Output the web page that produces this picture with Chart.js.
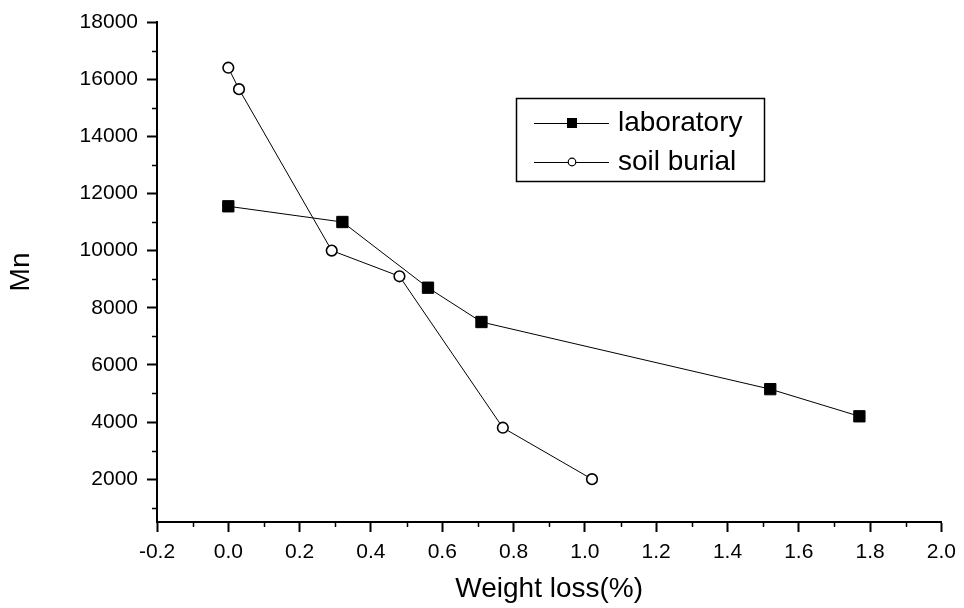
<!DOCTYPE html>
<html>
<head>
<meta charset="utf-8">
<title>Mn vs weight loss</title>
<script src="https://cdn.jsdelivr.net/npm/chart.js@4.4.0/dist/chart.umd.min.js"></script>
<style>
  html, body { margin: 0; padding: 0; background: #fff; }
  #wrap { width: 964px; height: 608px; position: relative; }
</style>
</head>
<body>
<div id="wrap"><canvas id="mn-chart"></canvas></div>
<script>
  'use strict';

  // ── Data ─────────────────────────────────────────────────────────────
  var seriesLabels = ['laboratory', 'soil burial'];
  var labLoss = [0.00, 0.32, 0.56, 0.71, 1.52, 1.77];
  var labMn = [11550, 11000, 8700, 7500, 5150, 4200];
  var soilLoss = [0.00, 0.03, 0.29, 0.48, 0.77, 1.02];
  var soilMn = [16400, 15650, 10000, 9100, 3800, 2000];

  var xTicks = [-0.2, 0.0, 0.2, 0.4, 0.6, 0.8, 1.0, 1.2, 1.4, 1.6, 1.8, 2.0];
  var yTicks = [2000, 4000, 6000, 8000, 10000, 12000, 14000, 16000, 18000];
  var xMinor = [-0.1, 0.1, 0.3, 0.5, 0.7, 0.9, 1.1, 1.3, 1.5, 1.7, 1.9];
  var yMinor = [1000, 3000, 5000, 7000, 9000, 11000, 13000, 15000, 17000];

  var FONT = '"Liberation Sans", Arial, Helvetica, sans-serif';

  function toPoints(xs, ys) {
    return xs.map(function (x, i) { return { x: x, y: ys[i] }; });
  }

  // ── Minor ticks, drawn outward from the axes ─────────────────────────
  var minorTickPlugin = {
    id: 'minorTicks',
    afterDraw: function (chart) {
      var ctx = chart.ctx;
      var area = chart.chartArea;
      var xs = chart.scales.x, ys = chart.scales.y;
      ctx.save();
      ctx.strokeStyle = '#000';
      ctx.lineWidth = 1.5;
      ctx.beginPath();
      xMinor.forEach(function (v) {
        var px = Math.round(xs.getPixelForValue(v)) + 0.5;
        ctx.moveTo(px, area.bottom);
        ctx.lineTo(px, area.bottom + 5);
      });
      yMinor.forEach(function (v) {
        var py = Math.round(ys.getPixelForValue(v)) + 0.5;
        ctx.moveTo(area.left, py);
        ctx.lineTo(area.left - 5, py);
      });
      ctx.stroke();
      ctx.restore();
    }
  };

  // ── Boxed legend inside the plot ─────────────────────────────────────
  var boxLegendPlugin = {
    id: 'boxLegend',
    afterDraw: function (chart) {
      var ctx = chart.ctx;
      var a = chart.chartArea;
      var left = a.left + 359, top = a.top + 76, w = 248, h = 83;
      ctx.save();
      ctx.strokeStyle = '#000';
      ctx.lineWidth = 1.5;
      ctx.strokeRect(left + 0.5, top + 0.5, w, h);
      var rows = [top + 25, top + 64];
      chart.data.datasets.forEach(function (ds, i) {
        var y = rows[i];
        ctx.strokeStyle = '#000';
        ctx.lineWidth = 1;
        ctx.beginPath();
        ctx.moveTo(left + 18, y + 0.5);
        ctx.lineTo(left + 93, y + 0.5);
        ctx.stroke();
        ctx.lineWidth = 1.2;
        if (ds.pointStyle === 'rect') {
          ctx.fillStyle = '#000';
          ctx.fillRect(left + 56 - 5, y - 5, 10, 10);
        } else {
          ctx.fillStyle = '#fff';
          ctx.beginPath();
          ctx.arc(left + 56, y, 3.8, 0, Math.PI * 2);
          ctx.fill();
          ctx.stroke();
        }
        ctx.fillStyle = '#000';
        ctx.font = '28px ' + FONT;
        ctx.textAlign = 'left';
        ctx.textBaseline = 'middle';
        ctx.fillText(ds.label, left + 102, y);
      });
      ctx.restore();
    }
  };

  var axisCommon = {
    grid: {
      display: true,
      drawOnChartArea: false,
      drawTicks: true,
      tickLength: 10,
      tickColor: '#000',
      tickWidth: 2
    },
    border: { display: true, color: '#000', width: 2 }
  };

  var chart = new Chart(document.getElementById('mn-chart'), {
    type: 'scatter',
    data: {
      datasets: [
        {
          label: seriesLabels[0],
          data: toPoints(labLoss, labMn),
          showLine: true,
          borderColor: '#000',
          borderWidth: 1,
          pointStyle: 'rect',
          pointRadius: 8,
          pointBackgroundColor: '#000',
          pointBorderColor: '#000',
          pointBorderWidth: 1
        },
        {
          label: seriesLabels[1],
          data: toPoints(soilLoss, soilMn),
          showLine: true,
          borderColor: '#000',
          borderWidth: 1,
          pointStyle: 'circle',
          pointRadius: 5.3,
          pointBackgroundColor: '#fff',
          pointBorderColor: '#000',
          pointBorderWidth: 1.6
        }
      ]
    },
    options: {
      responsive: true,
      maintainAspectRatio: false,
      animation: false,
      layout: { padding: { top: 22, right: 19, left: 0, bottom: 0 } },
      plugins: {
        legend: { display: false },
        tooltip: { enabled: false }
      },
      scales: {
        x: Object.assign({}, axisCommon, {
          type: 'linear',
          min: -0.2,
          max: 2.0,
          afterBuildTicks: function (s) {
            s.ticks = xTicks.map(function (v) { return { value: v }; });
          },
          afterFit: function (s) { s.height = 86; },
          ticks: {
            color: '#000',
            padding: 8,
            maxRotation: 0,
            font: { family: FONT, size: 21 },
            callback: function (v) { return Number(v).toFixed(1); }
          },
          title: {
            display: true,
            text: 'Weight loss(%)',
            color: '#000',
            font: { family: FONT, size: 28 },
            padding: { top: 0, bottom: 2 }
          }
        }),
        y: Object.assign({}, axisCommon, {
          type: 'linear',
          min: 500,
          max: 18000,
          afterBuildTicks: function (s) {
            s.ticks = yTicks.map(function (v) { return { value: v }; });
          },
          afterFit: function (s) { s.width = 157; },
          ticks: {
            color: '#000',
            padding: 9,
            font: { family: FONT, size: 21 },
            callback: function (v) { return String(v); }
          },
          title: {
            display: true,
            text: 'Mn',
            color: '#000',
            font: { family: FONT, size: 28 },
            padding: { top: 4, bottom: 0 }
          }
        })
      }
    },
    plugins: [minorTickPlugin, boxLegendPlugin]
  });
</script>
</body>
</html>
